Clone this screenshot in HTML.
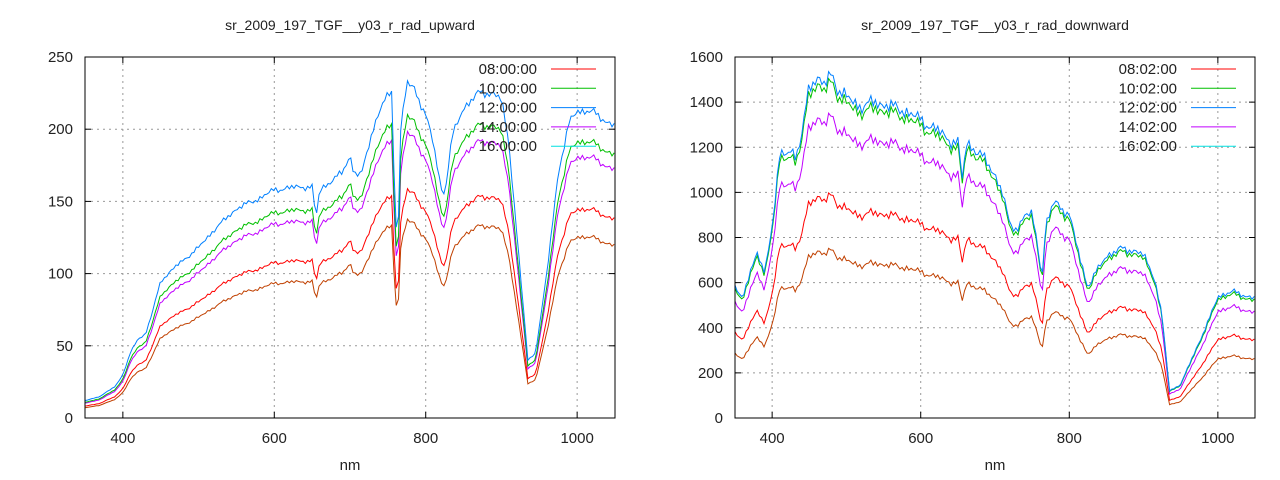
<!DOCTYPE html>
<html><head><meta charset="utf-8"><style>
body{margin:0;background:#fff;width:1280px;height:480px;overflow:hidden}
svg{display:block;font-family:"Liberation Sans",sans-serif;font-size:15px;fill:#222}
</style></head><body>
<svg id="s" width="1280" height="480" viewBox="0 0 1280 480"></svg>
<script>
const S=document.getElementById('s');let h='';
const cols=['#ff0000','#00c000','#0080ff','#c000ff','#00e0e0'];
function interp(k,x){for(let i=1;i<k.length;i++){if(x<=k[i][0]){const a=k[i-1],b=k[i];return a[1]+(b[1]-a[1])*(x-a[0])/(b[0]-a[0]);}}return k[k.length-1][1];}
function plot(o){
 const{x0,x1,y0,y1,ymax,ystep,title,keys,facs,labels,noise}=o;
 const X=v=>x0+(v-350)/700*(x1-x0), Y=v=>y1-v/ymax*(y1-y0);
 h+=`<text x="${(x0+x1)/2}" y="30" text-anchor="middle" font-size="14">${title}</text>`;
 for(let v=0;v<=ymax;v+=ystep){const y=Y(v);
  if(v>0&&v<ymax)h+=`<line x1="${x0}" x2="${x1}" y1="${y}" y2="${y}" stroke="#999" stroke-dasharray="2,4"/>`;
  h+=`<line x1="${x0}" x2="${x0+6}" y1="${y}" y2="${y}" stroke="#000"/><line x1="${x1}" x2="${x1-6}" y1="${y}" y2="${y}" stroke="#000"/>`;
  h+=`<text x="${x0-12}" y="${y+5}" text-anchor="end">${v}</text>`;}
 for(const v of [400,600,800,1000]){const x=X(v);
  h+=`<line x1="${x}" x2="${x}" y1="${y0}" y2="${y1}" stroke="#999" stroke-dasharray="2,4"/>`;
  h+=`<line x1="${x}" x2="${x}" y1="${y1}" y2="${y1-6}" stroke="#000"/><line x1="${x}" x2="${x}" y1="${y0}" y2="${y0+6}" stroke="#000"/>`;
  h+=`<text x="${x}" y="${y1+25}" text-anchor="middle">${v}</text>`;}
 h+=`<text x="${(x0+x1)/2}" y="470" text-anchor="middle">nm</text>`;
 const fc=['#c04000','#ff0000','#c000ff','#00c000','#0080ff'];
 for(let j=0;j<5;j++){let p=[];
  for(let n=350;n<=1050;n+=3){let v=interp(keys,n);
   let nz=(Math.sin(n*0.9)+Math.sin(n*2.3+1)*0.7+Math.sin(n*0.37)*0.5)*noise*v/ymax;
   v=(v+nz)*facs[j];p.push(X(n).toFixed(1)+','+Y(Math.max(v,0)).toFixed(1));}
  h+=`<polyline fill="none" stroke="${fc[j]}" stroke-width="1" points="${p.join(' ')}"/>`;}
 h+=`<rect x="${x0}" y="${y0}" width="${x1-x0}" height="${y1-y0}" fill="none" stroke="#000"/>`;
 for(let i=0;i<5;i++){const y=74+i*19.3;
  h+=`<text x="${x1-78}" y="${y}" text-anchor="end">${labels[i]}</text><line x1="${x1-64}" x2="${x1-19}" y1="${y-5}" y2="${y-5}" stroke="${cols[i]}"/>`;}
}
plot({x0:85,x1:615,y0:57,y1:418,ymax:250,ystep:50,title:'sr_2009_197_TGF__y03_r_rad_upward',noise:2,
 facs:[0.59,0.68,0.85,0.9,1],labels:['08:00:00','10:00:00','12:00:00','14:00:00','16:00:00'],
 keys:[[350,12],[370,15],[390,22],[400,30],[410,45],[420,55],[430,58],[440,75],[450,95],[470,105],[500,118],[520,130],[550,145],[580,152],[600,158],[630,160],[650,160],[655,138],[660,158],[690,170],[700,182],[705,170],[715,168],[730,200],[745,220],[755,225],[760,140],[763,120],[767,200],[775,232],[785,228],[800,210],[810,190],[820,160],[825,155],[835,195],[850,215],[870,225],[890,225],[900,220],[910,190],[925,100],[935,40],[945,45],[960,100],[975,170],[990,205],[1000,213],[1020,212],[1040,205],[1050,202]]});
plot({x0:735,x1:1255,y0:57,y1:418,ymax:1600,ystep:200,title:'sr_2009_197_TGF__y03_r_rad_downward',noise:22,
 facs:[0.49,0.65,0.88,0.98,1],labels:['08:02:00','10:02:00','12:02:00','14:02:00','16:02:00'],
 keys:[[350,580],[360,530],[370,650],[380,720],[390,650],[400,850],[410,1150],[420,1180],[425,1200],[432,1150],[440,1250],[450,1480],[460,1510],[470,1470],[480,1530],[490,1450],[500,1420],[520,1380],[540,1400],[560,1380],[580,1360],[600,1320],[620,1280],[640,1230],[650,1220],[656,1060],[662,1220],[680,1170],[700,1080],[710,1000],[720,850],[730,840],[740,900],[750,900],[760,720],[763,600],[768,850],[780,960],[800,900],[815,700],[825,580],[835,640],[850,720],[870,750],[890,740],[900,720],[915,620],[925,450],[935,120],[950,150],[970,300],[990,450],[1000,540],[1020,560],[1040,540],[1050,530]]});
S.innerHTML=h;
</script>
</body></html>
